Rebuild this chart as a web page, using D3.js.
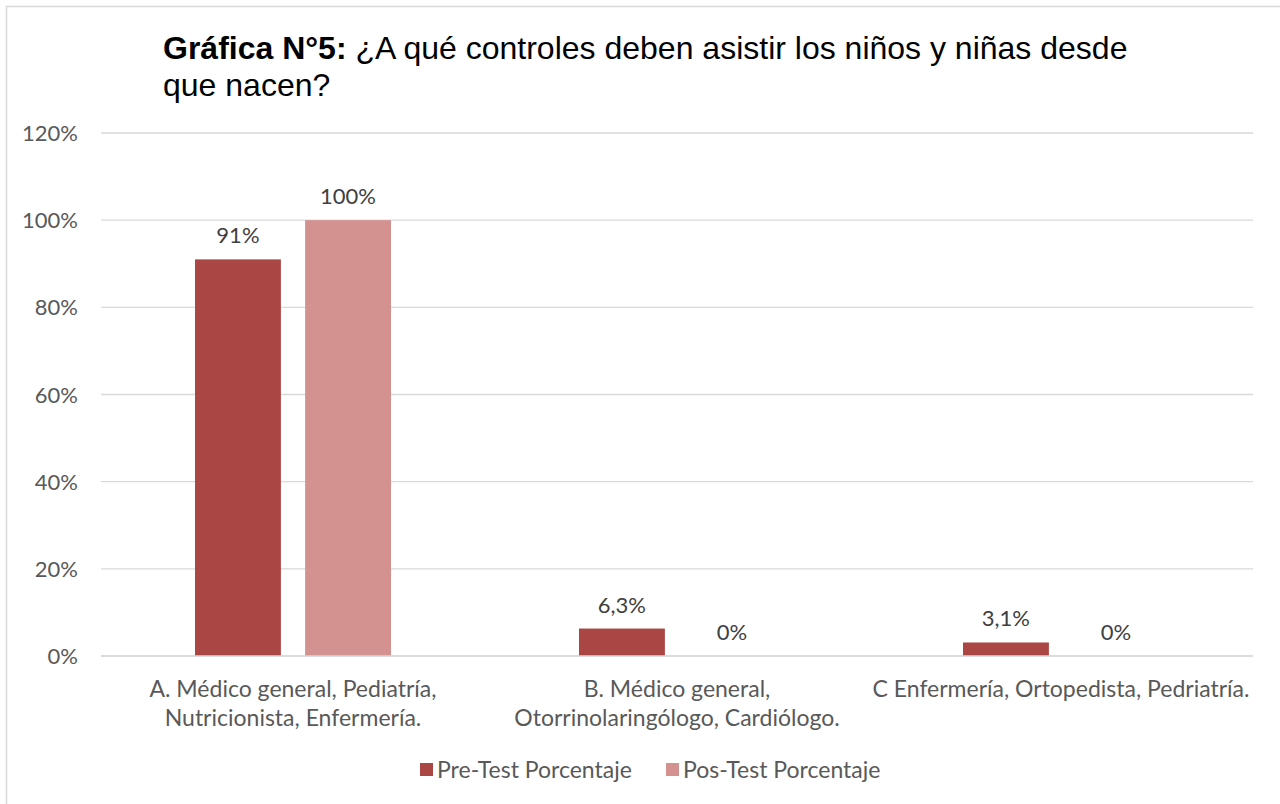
<!DOCTYPE html>
<html><head><meta charset="utf-8">
<script src="https://cdn.jsdelivr.net/npm/d3@7"></script>
<style>body{margin:0;background:#fff;} .lbl{font-family:Lato,"Open Sans",sans-serif;} .ttl{font-family:"Liberation Sans",Arial,sans-serif;}</style>
</head><body>
<svg id="c" width="1280" height="804"></svg>
<script>
const categories = [["A. Médico general, Pediatría,","Nutricionista, Enfermería."],["B. Médico general,","Otorrinolaringólogo, Cardiólogo."],["C Enfermería, Ortopedista, Pedriatría."]];
const series = ["Pre-Test Porcentaje","Pos-Test Porcentaje"];
const preValues = [0.91, 0.063, 0.031];
const posValues = [1.00, 0, 0];
const preLabels = ["91%","6,3%","3,1%"];
const posLabels = ["100%","0%","0%"];
const yTicks = [0,0.2,0.4,0.6,0.8,1.0,1.2];
const colors = ["#AA4644","#D39190"];
const FS = 22, FS2 = 23;

const svg = d3.select("#c");
svg.append("rect").attr("x",6.5).attr("y",6.5).attr("width",1290).attr("height",820).attr("fill","#fff").attr("stroke","#d9d9d9").attr("stroke-width",1.5);

const x0 = d3.scaleBand().domain([0,1,2]).range([101,1253]);
const x1 = d3.scaleBand().domain([0,1]).range([94,290]).paddingInner(0.22);
const y = d3.scaleLinear().domain([0,1.2]).range([656,133]);

yTicks.forEach(t=>{
  svg.append("line").attr("x1",101).attr("x2",1253).attr("y1",y(t)).attr("y2",y(t)).attr("stroke","#d9d9d9").attr("stroke-width",1.3);
  svg.append("text").attr("class","lbl").attr("x",78).attr("y",y(t)+8).attr("text-anchor","end").attr("font-size",FS).attr("fill","#595959").text(d3.format(".0%")(t));
});

const data = [preValues,posValues];
const labels = [preLabels,posLabels];
data.forEach((vals,s)=>{
  vals.forEach((v,i)=>{
    const bx = x0(i)+x1(s);
    svg.append("rect").attr("x",bx).attr("y",y(v)).attr("width",x1.bandwidth()).attr("height",y(0)-y(v)).attr("fill",colors[s]);
    svg.append("text").attr("class","lbl").attr("x",bx+x1.bandwidth()/2).attr("y",y(v)-16).attr("text-anchor","middle").attr("font-size",FS).attr("fill","#404040").text(labels[s][i]);
  });
});
svg.append("line").attr("x1",101).attr("x2",1253).attr("y1",y(0)).attr("y2",y(0)).attr("stroke","#d9d9d9").attr("stroke-width",1.5);

categories.forEach((lines,i)=>{
  const t = svg.append("text").attr("class","lbl").attr("text-anchor","middle").attr("font-size",FS2).attr("fill","#595959");
  lines.forEach((l,j)=>t.append("tspan").attr("x",x0(i)+x0.bandwidth()/2).attr("y",697+j*29).text(l));
});

const lx = [420,666];
series.forEach((s,i)=>{
  svg.append("rect").attr("x",lx[i]).attr("y",763).attr("width",13).attr("height",13).attr("fill",colors[i]);
  svg.append("text").attr("class","lbl").attr("x",lx[i]+17).attr("y",778).attr("font-size",FS2).attr("fill","#595959").text(s);
});

const title = svg.append("text").attr("class","ttl").attr("font-size",32).attr("fill","#000");
const t1 = title.append("tspan").attr("x",163).attr("y",59);
t1.append("tspan").attr("font-weight","bold").text("Gráfica N°5:");
t1.append("tspan").text(" ¿A qué controles deben asistir los niños y niñas desde");
title.append("tspan").attr("x",163).attr("y",96).text("que nacen?");
</script>
</body></html>
